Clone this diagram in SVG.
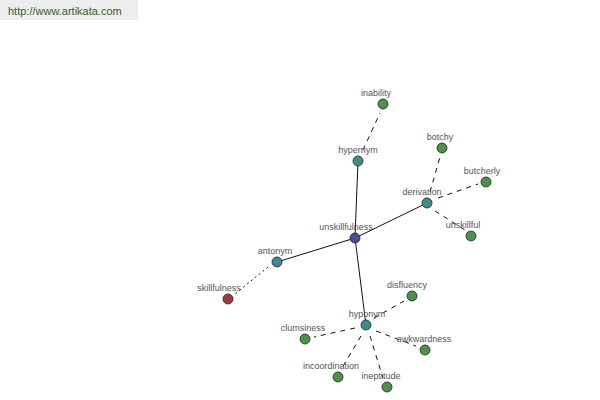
<svg xmlns="http://www.w3.org/2000/svg" width="600" height="400" viewBox="0 0 600 400">
<style>
.lbl{font-family:"Liberation Sans",Arial,sans-serif;font-size:9px;fill:#555;text-anchor:middle}
.n{stroke:#222;stroke-width:0.8}
.main{fill:#4b4b9c}.rel{fill:#3d8c8c}.leaf{fill:#4d914a}.ant{fill:#9c3c3c}
.solid{stroke:#111;stroke-width:1;fill:none}
.dash{stroke:#111;stroke-width:1;fill:none;stroke-dasharray:5,5}
.dot{stroke:#111;stroke-width:1;fill:none;stroke-dasharray:2,3}
</style>
<rect x="0" y="0" width="138" height="20" fill="#eeeeee"/>
<text x="8" y="15" font-family="Liberation Sans,Arial,sans-serif" font-size="11" fill="#3d5a2a">http://www.artikata.com</text>
<g id="connectors">
<line class="solid" x1="355" y1="238" x2="358" y2="161"/>
<line class="solid" x1="355" y1="238" x2="427" y2="203"/>
<line class="solid" x1="355" y1="238" x2="277" y2="262"/>
<line class="solid" x1="355" y1="238" x2="366" y2="325"/>
<line class="dash" x1="363" y1="150" x2="380" y2="113"/>
<line class="dash" x1="430" y1="192" x2="440" y2="157"/>
<line class="dash" x1="438" y1="198" x2="478" y2="184"/>
<line class="dash" x1="435" y1="211" x2="465" y2="230"/>
<line class="dot" x1="268" y1="267" x2="235" y2="294"/>
<line class="dash" x1="374" y1="318" x2="404" y2="301"/>
<line class="dash" x1="355" y1="328" x2="314" y2="337"/>
<line class="dash" x1="376" y1="331" x2="416" y2="346"/>
<line class="dash" x1="361" y1="336" x2="342" y2="368"/>
<line class="dash" x1="370" y1="336" x2="383" y2="378"/>
</g>
<g id="unskillfulness"><circle class="n main" cx="355" cy="238" r="5"/><text class="lbl" x="346" y="230">unskillfulness</text></g>
<g id="hypernym"><circle class="n rel" cx="358" cy="161" r="5"/><text class="lbl" x="358" y="153">hypernym</text></g>
<g id="inability"><circle class="n leaf" cx="383" cy="104" r="5"/><text class="lbl" x="376" y="96">inability</text></g>
<g id="derivation"><circle class="n rel" cx="427" cy="203" r="5"/><text class="lbl" x="422" y="195">derivation</text></g>
<g id="botchy"><circle class="n leaf" cx="442" cy="148" r="5"/><text class="lbl" x="440" y="140">botchy</text></g>
<g id="butcherly"><circle class="n leaf" cx="486" cy="182" r="5"/><text class="lbl" x="482" y="174">butcherly</text></g>
<g id="unskillful"><circle class="n leaf" cx="471" cy="236" r="5"/><text class="lbl" x="463" y="228">unskillful</text></g>
<g id="antonym"><circle class="n rel" cx="277" cy="262" r="5"/><text class="lbl" x="275" y="254">antonym</text></g>
<g id="skillfulness"><circle class="n ant" cx="228" cy="299" r="5"/><text class="lbl" x="219" y="291">skillfulness</text></g>
<g id="hyponym"><circle class="n rel" cx="366" cy="325" r="5"/><text class="lbl" x="367" y="317">hyponym</text></g>
<g id="disfluency"><circle class="n leaf" cx="412" cy="296" r="5"/><text class="lbl" x="407" y="288">disfluency</text></g>
<g id="clumsiness"><circle class="n leaf" cx="305" cy="339" r="5"/><text class="lbl" x="303" y="331">clumsiness</text></g>
<g id="awkwardness"><circle class="n leaf" cx="425" cy="350" r="5"/><text class="lbl" x="424" y="342">awkwardness</text></g>
<g id="incoordination"><circle class="n leaf" cx="338" cy="377" r="5"/><text class="lbl" x="331" y="369">incoordination</text></g>
<g id="ineptitude"><circle class="n leaf" cx="387" cy="387" r="5"/><text class="lbl" x="381" y="379">ineptitude</text></g>
</svg>
